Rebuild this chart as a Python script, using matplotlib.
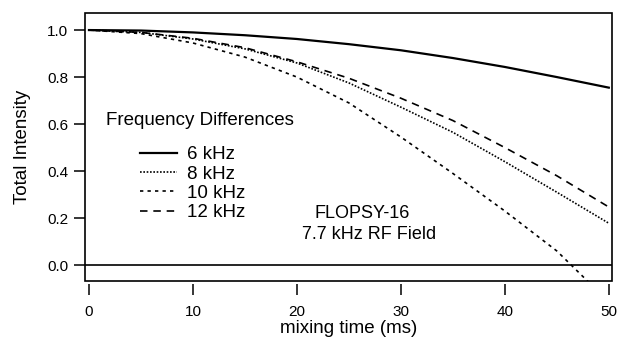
import matplotlib.pyplot as plt
from matplotlib.patches import Rectangle

plt.rcParams['font.family'] = ['Liberation Sans', 'DejaVu Sans']

# mixing time (ms)
t = [0, 5, 10, 15, 20, 25, 30, 35, 40, 45, 50]
t_10 = [0, 5, 10, 15, 20, 25, 30, 35, 40, 45, 48]

i_6khz = [1.0, 0.998, 0.99, 0.978, 0.962, 0.94, 0.914, 0.881, 0.843, 0.80, 0.755]
i_8khz = [1.0, 0.99, 0.962, 0.92, 0.86, 0.775, 0.672, 0.565, 0.44, 0.31, 0.178]
i_10khz = [1.0, 0.985, 0.945, 0.885, 0.80, 0.69, 0.545, 0.39, 0.23, 0.06, -0.07]
i_12khz = [1.0, 0.99, 0.965, 0.925, 0.865, 0.795, 0.71, 0.615, 0.50, 0.38, 0.247]

labels = ["6 kHz", "8 kHz", "10 kHz", "12 kHz"]
xticks = [0, 10, 20, 30, 40, 50]
yticks = [0.0, 0.2, 0.4, 0.6, 0.8, 1.0]

fig = plt.figure(figsize=(6.18, 3.37), dpi=100)
ax = fig.add_axes([0.1375, 0.166, 0.8525, 0.795])

l1, = ax.plot(t, i_6khz, color='black', lw=1.6, ls='-')
l2, = ax.plot(t, i_8khz, color='black', lw=1.2, ls=(0, (1, 1)))
l3, = ax.plot(t_10, i_10khz, color='black', lw=1.2, ls=(0, (2, 2.5)))
l4, = ax.plot(t, i_12khz, color='black', lw=1.2, ls=(0, (4.5, 3.5)))

ax.axhline(0, color='black', lw=1.2)

ax.set_xlim(-0.385, 50.29)
ax.set_ylim(-0.068, 1.072)
ax.set_xticks(xticks)
ax.set_xticklabels([str(v) for v in xticks])
ax.set_yticks(yticks)
ax.set_yticklabels(["%.1f" % v for v in yticks])

# frame drawn as a patch, ticks hang below it
for s in ax.spines.values():
    s.set_visible(False)
ax.spines['bottom'].set_position(('outward', 2))
ax.add_patch(Rectangle((0, 0), 1, 1, transform=ax.transAxes, fill=False,
                       lw=1.2, ec='black', clip_on=False, zorder=5))

ax.tick_params(axis='x', direction='out', length=8, width=1.1, pad=7, labelsize=11)
ax.tick_params(axis='y', direction='out', length=8, width=1.1, pad=4, labelsize=11)

ax.set_xlabel("mixing time (ms)", fontsize=13.5, labelpad=1)
ax.set_ylabel("Total Intensity", fontsize=13.5, labelpad=12)

fig.text(106 / 618, 1 - 120 / 337, "Frequency Differences", fontsize=13.5,
         va='center', ha='left')

leg = ax.legend([l1, l2, l3, l4], labels, frameon=False, fontsize=13.5,
                loc='upper left', bbox_to_anchor=(140 / 618, 1 - 146 / 337),
                bbox_transform=fig.transFigure, handlelength=1.95,
                handletextpad=0.55, labelspacing=0.12, borderpad=0,
                borderaxespad=0)

ax.text(26.3, 0.22, "FLOPSY-16", fontsize=13, ha='center', va='center')
ax.text(26.9, 0.13, "7.7 kHz RF Field", fontsize=13, ha='center', va='center')

fig.savefig("out.png", dpi=100)
